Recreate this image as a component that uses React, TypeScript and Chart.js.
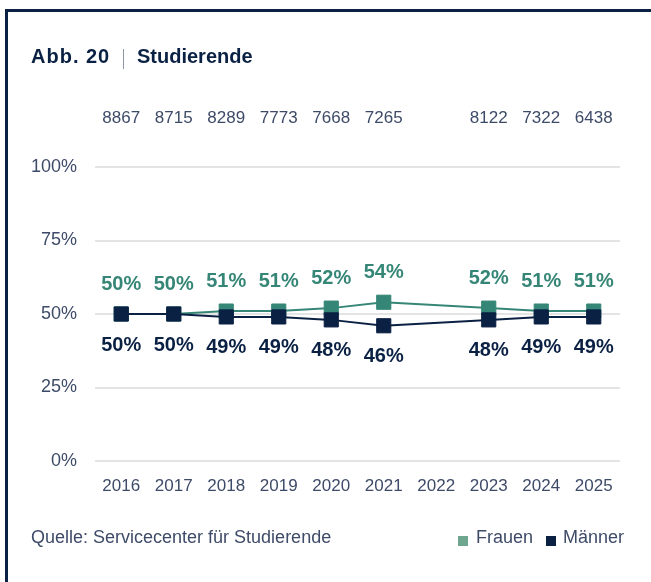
import React, { useEffect, useRef } from "react";
import { Chart, registerables } from "chart.js";

Chart.register(...registerables);

const years = ["2016", "2017", "2018", "2019", "2020", "2021", "2022", "2023", "2024", "2025"];
const counts: (number | null)[] = [8867, 8715, 8289, 7773, 7668, 7265, null, 8122, 7322, 6438];
const frauen: (number | null)[] = [50, 50, 51, 51, 52, 54, null, 52, 51, 51];
const maenner: (number | null)[] = [50, 50, 49, 49, 48, 46, null, 48, 49, 49];
const yTicks = [0, 25, 50, 75, 100];

const TEAL = "#358676";
const TEAL_LEGEND = "#6fa68f";
const NAVY = "#0b2144";
const TEXT = "#3e4b68";
const FONT = "'Liberation Sans', Arial, Helvetica, sans-serif";

const labelPlugin = {
  id: "valueLabels",
  afterDatasetsDraw(chart: any) {
    const ctx = chart.ctx;
    const xs = chart.scales.x;
    ctx.save();
    ctx.textAlign = "center";
    ctx.textBaseline = "middle";
    ctx.font = `17px ${FONT}`;
    ctx.fillStyle = TEXT;
    counts.forEach((c, i) => {
      if (c == null) return;
      ctx.fillText(String(c), xs.getPixelForValue(i), 118);
    });
    chart.data.datasets.forEach((ds: any, di: number) => {
      const meta = chart.getDatasetMeta(di);
      const off = ds.label === "Frauen" ? -30 : 31;
      ctx.font = `bold 20px ${FONT}`;
      ctx.fillStyle = ds.borderColor;
      meta.data.forEach((pt: any, i: number) => {
        const v = ds.data[i];
        if (v == null) return;
        ctx.fillText(v + "%", pt.x, pt.y + off);
      });
    });
    ctx.restore();
  },
};

export default function App() {
  const ref = useRef<HTMLCanvasElement | null>(null);

  useEffect(() => {
    if (!ref.current) return;
    const chart = new Chart(ref.current, {
      type: "line",
      data: {
        labels: years,
        datasets: [
          {
            label: "Frauen",
            data: frauen,
            borderColor: TEAL,
            backgroundColor: TEAL,
            borderWidth: 2,
            pointStyle: "rect",
            pointRadius: 10,
            pointBorderWidth: 1,
            pointHoverRadius: 10,
            spanGaps: true,
            order: 2,
          },
          {
            label: "Männer",
            data: maenner,
            borderColor: NAVY,
            backgroundColor: NAVY,
            borderWidth: 2,
            pointStyle: "rect",
            pointRadius: 10,
            pointBorderWidth: 1,
            pointHoverRadius: 10,
            spanGaps: true,
            order: 1,
          },
        ],
      },
      options: {
        responsive: false,
        animation: false,
        devicePixelRatio: 1,
        events: [],
        layout: { padding: { left: 31, right: 31, top: 167, bottom: 81 } },
        plugins: {
          legend: { display: false },
          tooltip: { enabled: false },
        },
        scales: {
          x: {
            type: "category",
            offset: true,
            grid: { display: false, drawTicks: false },
            border: { display: false },
            ticks: {
              color: TEXT,
              font: { family: FONT, size: 17 },
              padding: 15,
              maxRotation: 0,
              autoSkip: false,
            },
            afterFit: (s: any) => {
              s.height = 40;
            },
          },
          y: {
            min: 0,
            max: 100,
            afterBuildTicks: (s: any) => {
              s.ticks = yTicks.map((v) => ({ value: v }));
            },
            grid: { color: "#e4e4e4", lineWidth: 2, drawTicks: false },
            border: { display: false },
            ticks: {
              color: TEXT,
              font: { family: FONT, size: 18 },
              padding: 18,
              callback: (v: any) => v + "%",
            },
            afterFit: (s: any) => {
              s.width = 64;
            },
          },
        },
      },
      plugins: [labelPlugin],
    });
    return () => chart.destroy();
  }, []);

  return (
    <div
      style={{
        position: "absolute",
        left: 0,
        top: 0,
        width: 651,
        height: 582,
        background: "#fff",
        overflow: "hidden",
        fontFamily: FONT,
      }}
    >
      <div
        style={{
          position: "absolute",
          left: 5,
          top: 9,
          width: 660,
          height: 600,
          borderTop: `3px solid ${NAVY}`,
          borderLeft: `3px solid ${NAVY}`,
          boxSizing: "border-box",
        }}
      />
      <canvas
        ref={ref}
        width={651}
        height={582}
        style={{ position: "absolute", left: 0, top: 0, width: 651, height: 582 }}
      />
      <div
        style={{
          position: "absolute",
          left: 31,
          top: 45,
          fontSize: 20,
          lineHeight: "23px",
          fontWeight: "bold",
          color: NAVY,
          letterSpacing: "1px",
          whiteSpace: "nowrap",
        }}
      >
        Abb. 20
      </div>
      <div
        style={{
          position: "absolute",
          left: 123,
          top: 49,
          width: 1,
          height: 20,
          background: "#8d95a6",
        }}
      />
      <div
        style={{
          position: "absolute",
          left: 137,
          top: 45,
          fontSize: 20,
          lineHeight: "23px",
          fontWeight: "bold",
          color: NAVY,
          whiteSpace: "nowrap",
        }}
      >
        Studierende
      </div>
      <div
        style={{
          position: "absolute",
          left: 31,
          top: 527,
          fontSize: 18,
          lineHeight: "21px",
          color: TEXT,
          whiteSpace: "nowrap",
        }}
      >
        Quelle: Servicecenter für Studierende
      </div>
      <div style={{ position: "absolute", left: 458, top: 536, width: 10, height: 10, background: TEAL_LEGEND }} />
      <div
        style={{
          position: "absolute",
          left: 476,
          top: 527,
          fontSize: 18,
          lineHeight: "21px",
          color: TEXT,
          whiteSpace: "nowrap",
        }}
      >
        Frauen
      </div>
      <div style={{ position: "absolute", left: 546, top: 536, width: 10, height: 10, background: NAVY }} />
      <div
        style={{
          position: "absolute",
          left: 563,
          top: 527,
          fontSize: 18,
          lineHeight: "21px",
          color: TEXT,
          whiteSpace: "nowrap",
        }}
      >
        Männer
      </div>
    </div>
  );
}
